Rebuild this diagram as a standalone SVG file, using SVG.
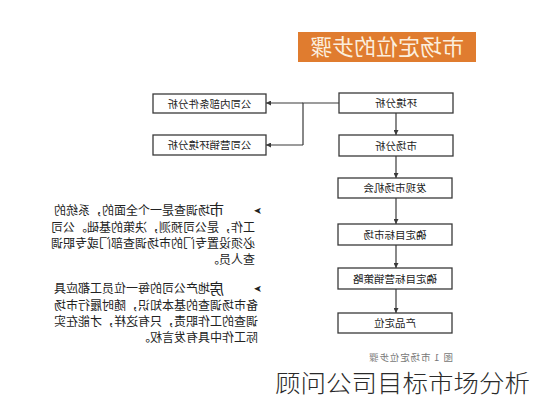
<svg xmlns="http://www.w3.org/2000/svg" width="533" height="400" viewBox="0 0 533 400">
<style>
  .box { fill: #ffffff; stroke: #3a3a3a; stroke-width: 1.3; }
  .bt { font-family: "Noto Sans CJK SC", "Noto Sans", sans-serif; font-size: 10.5px; fill: #222; text-anchor: middle; }
  .pt { font-family: "Noto Sans CJK SC", "Noto Sans", sans-serif; font-size: 12px; fill: #222; }
  .big { font-family: "Noto Sans CJK SC", "Noto Sans", sans-serif; font-size: 15px; fill: #222; }
  .ar { font-family: "DejaVu Sans", sans-serif; font-size: 10px; fill: #222; }
  .line { stroke: #3a3a3a; stroke-width: 1.2; fill: none; }
</style>
<defs>
  <marker id="ah" viewBox="0 0 6 6" refX="6" refY="3" markerWidth="5" markerHeight="5" orient="auto" markerUnits="userSpaceOnUse">
    <path d="M0,0 L6,3 L0,6 Z" fill="#3a3a3a"/>
  </marker>
</defs>
<rect width="533" height="400" fill="#ffffff"/>

<g id="title">
  <rect x="298" y="32" width="178" height="30" fill="#e07c2f"/>
  <text transform="translate(387,55) scale(-1,1)" x="0" y="0" text-anchor="middle" font-family="Noto Sans CJK SC, sans-serif" font-size="22" fill="#fbeedd">市场定位的步骤</text>
</g>

<g id="connectors">
  <path class="line" d="M339,103 H303 V145"/>
  <path class="line" d="M303,103 H266" marker-end="url(#ah)"/>
  <path class="line" d="M303,145 H266" marker-end="url(#ah)"/>
  <path class="line" d="M396,113 V135" marker-end="url(#ah)"/>
  <path class="line" d="M396,156 V178" marker-end="url(#ah)"/>
  <path class="line" d="M396,198 V224" marker-end="url(#ah)"/>
  <path class="line" d="M396,245 V268" marker-end="url(#ah)"/>
  <path class="line" d="M396,289 V313" marker-end="url(#ah)"/>
</g>

<g id="n-env">
  <rect class="box" x="339" y="93" width="114" height="20"/>
  <text class="bt" transform="translate(396,107) scale(-1,1)">环境分析</text>
</g>
<g id="n-market">
  <rect class="box" x="339" y="135" width="114" height="21"/>
  <text class="bt" transform="translate(396,149.5) scale(-1,1)">市场分析</text>
</g>
<g id="n-opp">
  <rect class="box" x="338" y="178" width="114" height="20"/>
  <text class="bt" transform="translate(395,192) scale(-1,1)">发现市场机会</text>
</g>
<g id="n-target">
  <rect class="box" x="338" y="224" width="114" height="21"/>
  <text class="bt" transform="translate(395,238.5) scale(-1,1)">确定目标市场</text>
</g>
<g id="n-strategy">
  <rect class="box" x="338" y="268" width="114" height="21"/>
  <text class="bt" transform="translate(395,282.5) scale(-1,1)">确定目标营销策略</text>
</g>
<g id="n-position">
  <rect class="box" x="338" y="313" width="114" height="20"/>
  <text class="bt" transform="translate(395,327) scale(-1,1)">产品定位</text>
</g>
<g id="n-internal">
  <rect class="box" x="153" y="94" width="113" height="19"/>
  <text class="bt" transform="translate(209.5,107.5) scale(-1,1)">公司内部条件分析</text>
</g>
<g id="n-mktenv">
  <rect class="box" x="153" y="135" width="113" height="20"/>
  <text class="bt" transform="translate(209.5,149) scale(-1,1)">公司营销环境分析</text>
</g>

<g id="para1">
  <text class="ar" transform="translate(262,214) scale(-1,1)">➤</text>
  <text class="big" transform="translate(224,215) scale(-1,1)">市</text>
  <text class="pt" transform="translate(210,215) scale(-1,1)">场调查是一个全面的，系统的</text>
  <text class="pt" transform="translate(255,232) scale(-1,1)">工作，是公司预测，决策的基础。公司</text>
  <text class="pt" transform="translate(255,248) scale(-1,1)">必须设置专门的市场调查部门或专职调</text>
  <text class="pt" transform="translate(255,264) scale(-1,1)">查人员。</text>
</g>

<g id="para2">
  <text class="ar" transform="translate(262,292) scale(-1,1)">➤</text>
  <text class="big" transform="translate(224,294) scale(-1,1)">房</text>
  <text class="pt" transform="translate(210,293) scale(-1,1)">地产公司的每一位员工都应具</text>
  <text class="pt" transform="translate(258,310) scale(-1,1)">备市场调查的基本知识，随时履行市场</text>
  <text class="pt" transform="translate(258,326) scale(-1,1)">调查的工作职责，只有这样，才能在实</text>
  <text class="pt" transform="translate(258,342) scale(-1,1)">际工作中具有发言权。</text>
</g>

<text transform="translate(453,361) scale(-1,1)" font-family="Noto Sans CJK SC, sans-serif" font-size="9.5" fill="#777" textLength="84" lengthAdjust="spacing">图 1 市场定位步骤</text>

<text x="275" y="392" font-family="Noto Sans CJK SC, sans-serif" font-size="24" font-weight="300" fill="#2a2a2a" textLength="255" lengthAdjust="spacingAndGlyphs">顾问公司目标市场分析</text>
</svg>
